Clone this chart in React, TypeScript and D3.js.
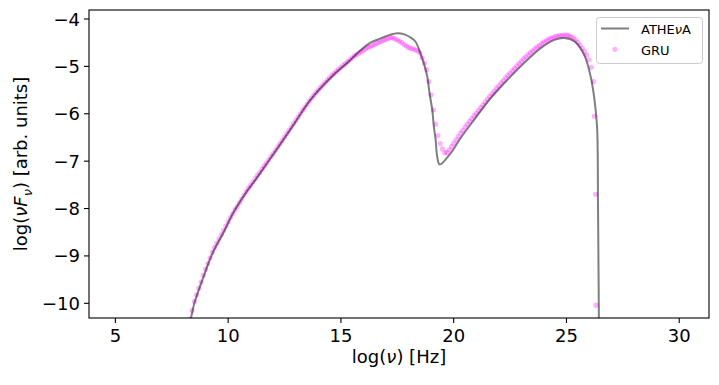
import React from 'react';
import * as d3 from 'd3';

// ATHEvA model curve (log nu, log nuFnu)
const atheLogNu = [7.6, 8.35, 8.5, 8.9, 9.3, 9.8, 10.24, 10.8, 11.2, 11.73,
	12.3, 12.89, 13.64, 14.67, 15.3, 15.87, 16.31, 16.76, 17.2, 17.5,
	17.79, 18.09, 18.31, 18.53, 18.68, 18.83, 18.93, 19.05, 19.12, 19.2,
	19.27, 19.38, 19.87, 20.31, 20.9, 21.64, 22.39, 23.12, 23.87, 24.46,
	24.9, 25.35, 25.79, 26.09, 26.27, 26.36, 26.40, 26.44, 26.47];
const atheLogNuFnu = [-11.6, -10.31, -10.0, -9.45, -8.95, -8.5, -8.08, -7.66, -7.40, -7.04,
	-6.65, -6.24, -5.71, -5.18, -4.92, -4.66, -4.50, -4.41, -4.33, -4.30,
	-4.32, -4.39, -4.48, -4.73, -4.94, -5.22, -5.57, -5.92, -6.27, -6.55,
	-6.91, -7.07, -6.83, -6.51, -6.13, -5.67, -5.28, -4.93, -4.61, -4.44,
	-4.40, -4.47, -4.76, -5.25, -5.81, -6.30, -8.0, -10.5, -13];

// GRU prediction, sampled every 0.1 in log nu from 8.3 to 26.2
const gruStart = 8.3;
const gruStep = 0.1;
const gruLogNuFnu = [
	-10.34, -10.15, -9.96, -9.82, -9.68, -9.55, -9.41, -9.28, -9.16, -9.04,
	-8.92, -8.82, -8.73, -8.64, -8.55, -8.46, -8.37, -8.28, -8.19, -8.11,
	-8.03, -7.96, -7.88, -7.80, -7.72, -7.64, -7.57, -7.51, -7.44, -7.37,
	-7.30, -7.24, -7.17, -7.10, -7.04, -6.97, -6.90, -6.84, -6.77, -6.70,
	-6.63, -6.56, -6.49, -6.42, -6.35, -6.28, -6.21, -6.14, -6.07, -6.00,
	-5.93, -5.87, -5.80, -5.73, -5.67, -5.61, -5.55, -5.50, -5.44, -5.39,
	-5.34, -5.29, -5.24, -5.19, -5.15, -5.10, -5.06, -5.02, -4.98, -4.94,
	-4.90, -4.86, -4.82, -4.78, -4.75, -4.72, -4.69, -4.66, -4.63, -4.60,
	-4.58, -4.56, -4.54, -4.51, -4.49, -4.47, -4.45, -4.43, -4.41, -4.39,
	-4.40, -4.42, -4.44, -4.47, -4.50, -4.54, -4.57, -4.60, -4.62, -4.63,
	-4.65, -4.67, -4.72, -4.82, -4.93, -5.07, -5.32, -5.60, -5.92, -6.22,
	-6.46, -6.63, -6.74, -6.82, -6.82, -6.76, -6.69, -6.62, -6.55, -6.48,
	-6.41, -6.35, -6.28, -6.22, -6.16, -6.10, -6.04, -5.99, -5.93, -5.87,
	-5.81, -5.75, -5.69, -5.63, -5.58, -5.52, -5.46, -5.41, -5.35, -5.30,
	-5.24, -5.19, -5.14, -5.09, -5.04, -4.99, -4.94, -4.89, -4.84, -4.80,
	-4.75, -4.71, -4.67, -4.63, -4.59, -4.56, -4.52, -4.49, -4.46, -4.43,
	-4.41, -4.39, -4.37, -4.36, -4.35, -4.35, -4.34, -4.34, -4.35, -4.37,
	-4.40, -4.44, -4.49, -4.55, -4.62, -4.69, -4.76, -4.86, -5.02, -5.32];
// the few GRU points on the cut-off
const gruTailLogNu = [26.24, 26.29, 26.31];
const gruTailLogNuFnu = [-6.05, -7.70, -10.04];

const xTicks = [5, 10, 15, 20, 25, 30];
const yTicks = [-10, -9, -8, -7, -6, -5, -4];

const W = 719, H = 385;
const margin = { left: 89, right: 10, top: 10, bottom: 67 };
const font = "'DejaVu Sans', sans-serif";

export default function App() {
	const x = d3.scaleLinear().domain([3.83, 31.32]).range([margin.left, W - margin.right]);
	const y = d3.scaleLinear().domain([-10.31, -3.81]).range([H - margin.bottom, margin.top]);

	const athe = atheLogNu.map((v, i) => [v, atheLogNuFnu[i]] as [number, number]);
	const gru = gruLogNuFnu.map((f, i) => [gruStart + i * gruStep, f])
		.concat(gruTailLogNu.map((v, i) => [v, gruTailLogNuFnu[i]]));

	const line = d3.line<[number, number]>()
		.x(d => x(d[0])).y(d => y(d[1]))
		.curve(d3.curveCatmullRom.alpha(0.5));

	const x0 = margin.left, x1 = W - margin.right;
	const y0 = margin.top, y1 = H - margin.bottom;

	return (
		<svg width={W} height={H} style={{ position: 'fixed', left: 0, top: 0, background: '#fff' }}
			fontFamily={font}>
			<defs>
				<clipPath id="plot">
					<rect x={x0} y={y0} width={x1 - x0} height={y1 - y0} />
				</clipPath>
			</defs>

			<g clipPath="url(#plot)">
				{gru.map((d, i) => (
					<circle key={i} cx={x(d[0])} cy={y(d[1])} r={2.6} fill="#ff00ff" fillOpacity={0.3} />
				))}
				<path d={line(athe) || ''} fill="none" stroke="#000" strokeOpacity={0.5} strokeWidth={2} />
			</g>

			<rect x={x0} y={y0} width={x1 - x0} height={y1 - y0} fill="none" stroke="#000" strokeWidth={1.1} />

			{xTicks.map(t => (
				<g key={t}>
					<line x1={x(t)} x2={x(t)} y1={y1} y2={y1 + 5} stroke="#000" strokeWidth={1.1} />
					<text x={x(t)} y={y1 + 24} fontSize={18} textAnchor="middle">{d3.format('d')(t)}</text>
				</g>
			))}
			{yTicks.map(t => (
				<g key={t}>
					<line x1={x0 - 5} x2={x0} y1={y(t)} y2={y(t)} stroke="#000" strokeWidth={1.1} />
					<text x={x0 - 9} y={y(t) + 6.5} fontSize={18} textAnchor="end">{d3.format('d')(t)}</text>
				</g>
			))}

			<text x={(x0 + x1) / 2} y={363} fontSize={18} textAnchor="middle">
				log(<tspan fontStyle="italic">ν</tspan>) [Hz]
			</text>
			<text transform={`translate(27,${(y0 + y1) / 2}) rotate(-90)`} fontSize={18} textAnchor="middle">
				log(<tspan fontStyle="italic">νF</tspan><tspan fontStyle="italic" fontSize={13} dy={5}>ν</tspan><tspan dy={-5}>) [arb. units]</tspan>
			</text>

			<g>
				<rect x={596.5} y={17.5} width={106} height={46} rx={3} fill="#fff" fillOpacity={0.8} stroke="#cccccc" />
				<line x1={601} x2={629} y1={28.5} y2={28.5} stroke="#000" strokeOpacity={0.5} strokeWidth={2} />
				<text x={641} y={33.5} fontSize={13}>ATHE<tspan fontStyle="italic">ν</tspan>A</text>
				<circle cx={615} cy={49.3} r={2.6} fill="#ff00ff" fillOpacity={0.3} />
				<text x={641} y={54.5} fontSize={13}>GRU</text>
			</g>
		</svg>
	);
}
